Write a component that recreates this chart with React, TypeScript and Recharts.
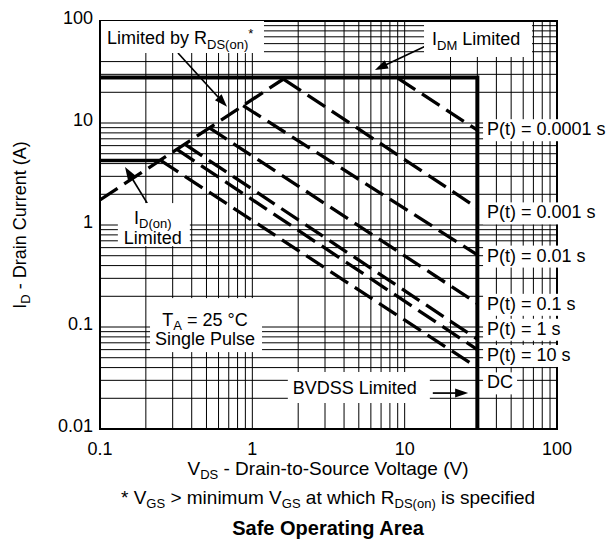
import React from "react"
import {
  LineChart,
  Line,
  XAxis,
  YAxis,
  CartesianGrid,
  ReferenceArea,
  ReferenceLine,
  ReferenceDot,
} from "recharts"

const FONT = "'Liberation Sans', Arial, Helvetica, sans-serif"

// axis ticks (log grid) and the decade labels
const xTicks = [
  0.1, 0.2, 0.3, 0.4, 0.5, 0.6, 0.7, 0.8, 0.9,
  1, 2, 3, 4, 5, 6, 7, 8, 9,
  10, 20, 30, 40, 50, 60, 70, 80, 90, 100,
]
const yTicks = [
  0.01, 0.02, 0.03, 0.04, 0.05, 0.06, 0.07, 0.08, 0.09,
  0.1, 0.2, 0.3, 0.4, 0.5, 0.6, 0.7, 0.8, 0.9,
  1, 2, 3, 4, 5, 6, 7, 8, 9,
  10, 20, 30, 40, 50, 60, 70, 80, 90, 100,
]
const xLabels = [0.1, 1, 10, 100]
const yLabels = [0.01, 0.1, 1, 10, 100]

// limit lines (V, A)
const rdsLimit = [{ x: 0.1, y: 1.76 }, { x: 1.6, y: 27 }]
const idmLimit = [{ x: 0.1, y: 28 }, { x: 30, y: 28 }, { x: 30, y: 0.01 }]
const idOnLimit = [{ x: 0.1, y: 4.3 }, { x: 0.26, y: 4.3 }]

// pulse lines
const p0001 = [{ x: 9, y: 27.6 }, { x: 30, y: 8.5 }]
const p001 = [{ x: 1.6, y: 27 }, { x: 30, y: 1.47 }]
const p01 = [{ x: 0.87, y: 14.8 }, { x: 30, y: 0.51 }]
const p1 = [{ x: 0.52, y: 9.0 }, { x: 30, y: 0.17 }]
const p1s = [{ x: 0.36, y: 6.2 }, { x: 30, y: 0.076 }]
const p10s = [{ x: 0.32, y: 5.5 }, { x: 30, y: 0.06 }]
const dc = [{ x: 0.25, y: 4.3 }, { x: 30, y: 0.04 }]
const pulseSeries = [p0001, p001, p01, p1, p1s, p10s, dc]

// right hand labels, anchored at the left of their box, vertical centre
const pulseLabels = ["P(t) = 0.0001 s", "P(t) = 0.001 s", "P(t) = 0.01 s", "P(t) = 0.1 s", "P(t) = 1 s", "P(t) = 10 s", "DC"]
const pulseLabelY = [8.5, 1.3, 0.49, 0.165, 0.094, 0.052, 0.028]
const pulseLabelX = 32.7

const txt = { fontFamily: FONT, fontSize: 18, fill: "#000" }
const sub = { fontSize: 13 }

const XTick = ({ x, y, payload }: any) => {
  if (!xLabels.includes(payload.value)) return <g />
  return (
    <text x={x} y={y + 26} textAnchor="middle" style={txt}>
      {String(payload.value)}
    </text>
  )
}

const YTick = ({ x, y, payload }: any) => {
  if (!yLabels.includes(payload.value)) return <g />
  return (
    <text x={x - 7} y={y + 2.5} textAnchor="end" style={txt}>
      {String(payload.value)}
    </text>
  )
}

const arrowShape = (p: any) => {
  const { x1, y1, x2, y2 } = p
  const dx = x2 - x1
  const dy = y2 - y1
  const len = Math.hypot(dx, dy) || 1
  const ux = dx / len
  const uy = dy / len
  const hl = 13
  const hw = 4.5
  const bx = x2 - ux * hl
  const by = y2 - uy * hl
  const pts = `${x2},${y2} ${bx - uy * hw},${by + ux * hw} ${bx + uy * hw},${by - ux * hw}`
  return (
    <g>
      <line x1={x1} y1={y1} x2={bx + ux * 2} y2={by + uy * 2} stroke="#000" strokeWidth={1.7} />
      <polygon points={pts} fill="#000" />
    </g>
  )
}

// white box + text, box placed from the anchor point
const boxLabel = (w: number, h: number, dx: number, dy: number, body: (x: number, y: number) => React.ReactNode) =>
  (p: any) => {
    const x = p.cx + dx
    const y = p.cy + dy
    return (
      <g>
        <rect x={x} y={y} width={w} height={h} fill="#fff" />
        {body(x, y)}
      </g>
    )
  }

const subSpan = { fontSize: 13, position: "relative" as const, top: 4 }

export default function App() {
  return (
    <div style={{ position: "absolute", left: 0, top: 0, width: 608, height: 548, background: "#fff" }}>
      <LineChart width={608} height={548} margin={{ top: 21, right: 51, bottom: 89, left: 40 }}>
        <CartesianGrid stroke="#000" strokeWidth={1} fill="none" />
        <XAxis
          dataKey="x"
          type="number"
          scale="log"
          domain={[0.1, 100]}
          ticks={xTicks}
          interval={0}
          allowDataOverflow
          axisLine={false}
          tickLine={false}
          tickSize={0}
          tickMargin={0}
          height={30}
          tick={<XTick />}
        />
        <YAxis
          type="number"
          scale="log"
          domain={[0.01, 100]}
          ticks={yTicks}
          interval={0}
          allowDataOverflow
          axisLine={false}
          tickLine={false}
          tickSize={0}
          tickMargin={0}
          width={60}
          tick={<YTick />}
        />

        {/* annotation boxes */}
        <ReferenceDot
          x={0.1015}
          y={100}
          r={0}
          ifOverflow="visible"
          shape={boxLabel(163, 32, 0, 0, (x, y) => (
            <text x={x + 6} y={y + 23} style={txt}>
              Limited by R<tspan dy={5} style={sub}>DS(on)</tspan>
              <tspan dy={-11} style={sub}>*</tspan>
            </text>
          ))}
        />
        <ReferenceDot
          x={13.4}
          y={97.8}
          r={0}
          ifOverflow="visible"
          shape={boxLabel(108, 35, 0, 0, (x, y) => (
            <text x={x + 8} y={y + 23} style={txt}>
              I<tspan dy={5} style={sub}>DM</tspan>
              <tspan dy={-5}> Limited</tspan>
            </text>
          ))}
        />
        <ReferenceDot
          x={0.131}
          y={1.64}
          r={0}
          ifOverflow="visible"
          shape={boxLabel(72, 43, 0, 0, (x, y) => (
            <text textAnchor="middle" style={txt}>
              <tspan x={x + 35} y={y + 21}>I</tspan>
              <tspan dy={4} style={sub}>D(on)</tspan>
              <tspan x={x + 35} y={y + 41}>Limited</tspan>
            </text>
          ))}
        />
        <ReferenceDot
          x={0.213}
          y={0.192}
          r={0}
          ifOverflow="visible"
          shape={boxLabel(112, 54, 0, 0, (x, y) => (
            <text textAnchor="middle" style={txt}>
              <tspan x={x + 55} y={y + 28}>T</tspan>
              <tspan dy={4} style={sub}>A</tspan>
              <tspan dy={-4}> = 25 °C</tspan>
              <tspan x={x + 55} y={y + 47}>Single Pulse</tspan>
            </text>
          ))}
        />
        <ReferenceDot
          x={1.71}
          y={0.0362}
          r={0}
          ifOverflow="visible"
          shape={boxLabel(142, 31, 0, 0, (x, y) => (
            <text x={x + 5} y={y + 22} style={txt}>
              BVDSS Limited
            </text>
          ))}
        />
        {pulseLabels.map((label, i) => (
          <ReferenceDot
            key={label}
            x={pulseLabelX}
            y={pulseLabelY[i]}
            r={0}
            ifOverflow="visible"
            shape={boxLabel(label === "DC" ? 34 : 125, 22, 0, -11, (x, y) => (
              <text x={x + 4} y={y + 16} style={txt}>
                {label}
              </text>
            ))}
          />
        ))}

        {/* plot frame */}
        <ReferenceArea x1={0.1} x2={100} y1={0.01} y2={100} fill="none" stroke="#000" strokeWidth={2} ifOverflow="visible" />

        {/* arrows */}
        <ReferenceLine segment={[{ x: 0.325, y: 48.6 }, { x: 0.682, y: 14.4 }]} shape={arrowShape} ifOverflow="visible" />
        <ReferenceLine segment={[{ x: 14.2, y: 58.2 }, { x: 6.38, y: 33.1 }]} shape={arrowShape} ifOverflow="visible" />
        <ReferenceLine segment={[{ x: 0.204, y: 1.64 }, { x: 0.146, y: 3.71 }]} shape={arrowShape} ifOverflow="visible" />
        <ReferenceLine segment={[{ x: 15.3, y: 0.0225 }, { x: 26.1, y: 0.0225 }]} shape={arrowShape} ifOverflow="visible" />

        {/* limits */}
        <Line data={idmLimit} dataKey="y" type="linear" stroke="#000" strokeWidth={4} dot={false} activeDot={false} isAnimationActive={false} strokeLinejoin="miter" />
        <Line data={idOnLimit} dataKey="y" type="linear" stroke="#000" strokeWidth={3.5} dot={false} activeDot={false} isAnimationActive={false} />
        <Line data={rdsLimit} dataKey="y" type="linear" stroke="#000" strokeWidth={3.3} strokeDasharray="21 8" dot={false} activeDot={false} isAnimationActive={false} />
        {pulseSeries.map((s, i) => (
          <Line
            key={i}
            data={s}
            dataKey="y"
            type="linear"
            stroke="#000"
            strokeWidth={3.3}
            strokeDasharray="21 8"
            dot={false}
            activeDot={false}
            isAnimationActive={false}
          />
        ))}
      </LineChart>

      <div
        style={{
          position: "absolute", left: -130, top: 215, width: 300, height: 20, lineHeight: "20px",
          transform: "rotate(-90deg)", textAlign: "center", fontFamily: FONT, fontSize: 18, color: "#000",
        }}
      >
        I<span style={subSpan}>D</span> - Drain Current (A)
      </div>
      <div style={{ position: "absolute", left: 128, top: 459, width: 400, lineHeight: "20px", textAlign: "center", fontFamily: FONT, fontSize: 19, color: "#000" }}>
        V<span style={subSpan}>DS</span> - Drain-to-Source Voltage (V)
      </div>
      <div style={{ position: "absolute", left: 28, top: 488, width: 600, lineHeight: "20px", textAlign: "center", fontFamily: FONT, fontSize: 19, color: "#000" }}>
        * V<span style={subSpan}>GS</span> &gt; minimum V<span style={subSpan}>GS</span> at which R
        <span style={subSpan}>DS(on)</span> is specified
      </div>
      <div style={{ position: "absolute", left: 128, top: 518, width: 400, lineHeight: "20px", textAlign: "center", fontFamily: FONT, fontSize: 20, fontWeight: "bold", color: "#000" }}>
        Safe Operating Area
      </div>
    </div>
  )
}
